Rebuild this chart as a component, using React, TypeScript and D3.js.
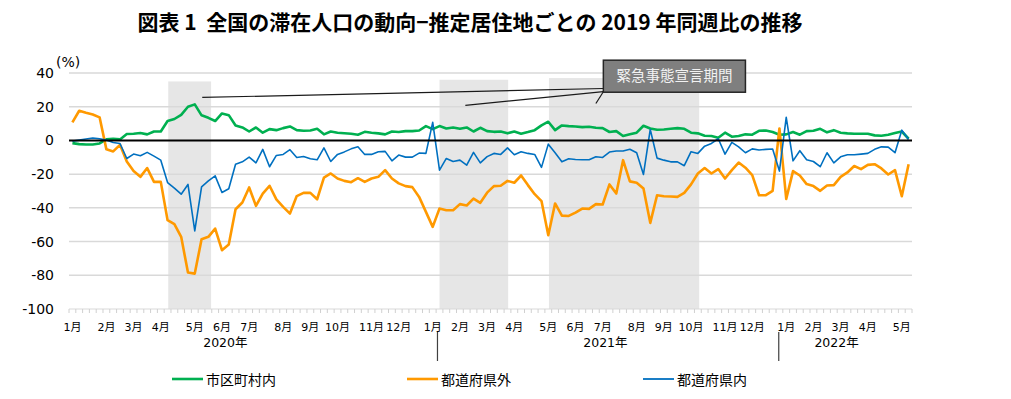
import React from 'react';
import * as d3 from 'd3';

// weekly values, % vs. same week of 2019 (week 0 = first week of Jan 2020)
const withinCity = [
  -1.6, -2.2, -2.4, -2.4, -1.8, 0.6, 1.0, 0.6, 3.8, 4.0, 4.4, 3.6, 5.3, 5.3, 11.5, 12.7, 15.2, 20.0, 21.4, 14.9,
  13.4, 11.5, 16.0, 15.0, 8.9, 7.7, 5.3, 7.7, 4.6, 6.7, 6.1, 7.3, 8.3, 6.1, 5.7, 5.9, 6.9, 3.6, 5.3, 4.6,
  4.3, 4.0, 3.4, 5.1, 4.6, 4.2, 3.6, 5.3, 5.0, 5.5, 5.5, 5.9, 8.5, 6.7, 8.5, 7.1, 7.7, 6.9, 7.7, 5.3,
  7.5, 5.5, 5.1, 5.3, 4.2, 5.3, 4.0, 5.0, 6.1, 8.9, 11.1, 6.1, 8.9, 8.5, 8.3, 7.9, 8.1, 7.5, 7.3, 5.0,
  5.5, 2.6, 3.6, 4.6, 8.7, 7.1, 6.3, 6.5, 6.9, 7.3, 6.9, 4.6, 4.2, 2.8, 2.6, 1.6, 4.6, 2.2, 2.6, 3.6,
  3.4, 5.7, 5.9, 5.0, 3.4, 3.6, 5.0, 3.4, 5.5, 5.7, 6.9, 4.8, 6.1, 4.6, 4.2, 4.0, 4.0, 4.0, 3.0, 2.8,
  3.4, 4.4, 5.3, 1.0,
];
const outsidePref = [
  10.7, 17.6, 16.4, 15.4, 13.7, -5.3, -6.5, -2.6, -12.5, -18.2, -21.6, -16.4, -24.6, -24.6, -47.3, -49.7, -57.2, -78.4, -79.0, -58.6,
  -57.2, -52.3, -65.1, -61.8, -40.8, -36.8, -27.9, -38.8, -31.5, -26.9, -35.0, -39.4, -43.4, -33.0, -31.1, -31.1, -34.9, -22.0, -19.6, -22.6,
  -24.0, -24.8, -22.4, -24.6, -22.6, -21.6, -17.6, -22.6, -25.5, -27.1, -27.7, -33.5, -42.4, -51.3, -40.4, -41.4, -41.4, -37.8, -38.6, -34.5,
  -37.0, -31.0, -27.1, -26.9, -24.0, -25.1, -20.8, -26.5, -31.9, -36.0, -56.2, -37.4, -44.6, -44.8, -42.8, -40.4, -40.6, -37.8, -38.0, -26.1,
  -31.5, -11.7, -24.3, -25.1, -28.5, -48.9, -32.5, -33.1, -33.3, -33.5, -31.1, -26.1, -19.6, -16.4, -19.6, -17.0, -22.6, -17.6, -13.1, -16.2,
  -20.6, -32.5, -32.5, -29.9, 7.1, -34.7, -18.2, -20.8, -25.9, -27.1, -29.9, -26.7, -26.5, -21.6, -19.0, -15.2, -17.0, -14.5, -14.1, -16.6,
  -20.2, -17.6, -33.1, -14.1,
];
const withinPref = [
  -0.4, 0.2, 0.8, 1.4, 1.0, 0.2, -1.2, -1.8, -10.7, -8.1, -9.1, -7.1, -9.3, -11.7, -25.0, -28.3, -31.9, -26.1, -53.7, -27.5,
  -24.0, -21.0, -30.9, -28.7, -14.1, -12.7, -9.9, -13.3, -5.3, -15.6, -8.9, -8.3, -5.5, -10.1, -9.5, -10.9, -11.5, -4.4, -12.5, -8.3,
  -6.8, -5.0, -3.8, -8.3, -8.3, -6.7, -6.5, -12.1, -8.7, -9.9, -9.9, -7.5, -7.7, 10.7, -17.6, -10.7, -12.5, -11.7, -14.7, -7.1,
  -13.3, -9.6, -7.7, -8.3, -4.4, -8.5, -6.7, -7.7, -8.3, -16.0, -2.2, -7.3, -12.7, -10.9, -11.3, -11.5, -11.5, -9.7, -10.1, -6.9,
  -6.3, -6.3, -5.2, -7.3, -20.2, 6.5, -10.5, -11.7, -12.7, -12.7, -15.0, -6.7, -7.7, -3.4, -1.8, 1.0, -8.1, -1.2, -3.8, -7.3,
  -5.0, -5.7, -5.3, -5.1, -18.2, 13.7, -12.1, -6.1, -11.5, -12.5, -15.6, -7.3, -13.3, -9.7, -8.5, -8.5, -8.1, -7.7, -5.3, -3.8,
  -4.0, -7.3, 6.1, 0.6,
];

const seriesNames = ['市区町村内', '都道府県外', '都道府県内'];
const seriesColors = ['#00b050', '#ff9900', '#0070c0'];

const monthLabels = [
  '1月', '2月', '3月', '4月', '5月', '6月', '7月', '8月', '9月', '10月', '11月', '12月',
  '1月', '2月', '3月', '4月', '5月', '6月', '7月', '8月', '9月', '10月', '11月', '12月',
  '1月', '2月', '3月', '4月', '5月',
];
const monthWeeks = [
  0, 5, 9, 13, 18, 22, 26, 31, 35, 39, 44, 48,
  53, 57, 61, 65, 70, 74, 78, 83, 87, 91, 96, 100,
  105, 109, 113, 117, 122,
];
const yearLabels = ['2020年', '2021年', '2022年'];
const yearLabelWeeks = [22.5, 78.4, 112.4];
const yearDividerWeeks = [53.7, 103.9];

// state of emergency periods: [start week, end week, top value]
const emergencyPeriods = [
  [14.1, 20.4, 35],
  [54.0, 64.1, 36],
  [70.1, 92.2, 37],
];
const calloutText = '緊急事態宣言期間';
const calloutBox = [78.1, 99.0, 47.6, 28.6]; // week left, week right, value top, value bottom
const calloutFrom = [[78.1, 30.8], [78.1, 28.9], [78.1, 28.9]];
const calloutTo = [[19.1, 25.5], [57.8, 20.8], [77.0, 21.9]];

const yTicks = [40, 20, 0, -20, -40, -60, -80, -100];

const W = 1011;
const H = 399;
const numFont = "'DejaVu Sans', 'Noto Sans CJK JP', sans-serif";
const jpFont = "'Noto Sans CJK JP', sans-serif";

export default function App() {
  const n = withinCity.length;
  const x = d3.scaleLinear().domain([-0.5, n - 0.5]).range([69, 912]);
  const y = d3.scaleLinear().domain([-100, 40]).range([309, 73]);
  const series = [withinCity, outsidePref, withinPref];
  const line = d3.line<number>().x((_, i) => x(i)).y(d => y(d));
  const [x0, x1] = x.range();

  const legendX = [172, 407, 643];

  return (
    <svg width={W} height={H} style={{ position: 'absolute', left: 0, top: 0, background: '#fff' }}>
      <text x={470} y={30} textAnchor="middle" fontFamily={jpFont} fontWeight="bold" fontSize={21} fill="#000">
        {'図表 1\u00a0\u00a0全国の滞在人口の動向−推定居住地ごとの 2019 年同週比の推移'}
      </text>

      {/* emergency shading */}
      {emergencyPeriods.map(([a, b, top], k) => (
        <rect key={k} x={x(a)} width={x(b) - x(a)} y={y(top)} height={y(-100) - y(top)} fill="#e6e6e6" />
      ))}

      {/* gridlines */}
      {yTicks.filter(t => t !== 0 && t !== -100).map(t => (
        <line key={t} x1={x0} x2={x1} y1={y(t)} y2={y(t)} stroke="#d9d9d9" strokeWidth={1.5} />
      ))}

      {/* bottom axis with weekly ticks */}
      <line x1={x0} x2={x1} y1={y(-100)} y2={y(-100)} stroke="#d9d9d9" strokeWidth={1} />
      {d3.range(n + 1).map(i => (
        <line key={i} x1={x(i - 0.5)} x2={x(i - 0.5)} y1={y(-100)} y2={y(-100) + 4} stroke="#d0d0d0" strokeWidth={1} />
      ))}

      {/* y tick labels */}
      {yTicks.map(t => (
        <text key={t} x={54} y={y(t) + 5} textAnchor="end" fontFamily={numFont} fontSize={14} fill="#000">
          {t}
        </text>
      ))}
      <text x={56} y={67} fontFamily={numFont} fontSize={14} fill="#000">(%)</text>

      {/* series */}
      {series.map((s, k) => (
        <path key={k} d={line(s) || ''} fill="none" stroke={seriesColors[k]}
          strokeWidth={k === 2 ? 1.6 : 2.6} strokeLinejoin="round" />
      ))}

      {/* zero line */}
      <line x1={x0} x2={x1} y1={y(0)} y2={y(0)} stroke="#000" strokeWidth={2} />

      {/* callout */}
      {calloutFrom.map((f, k) => (
        <line key={k} x1={x(f[0])} y1={y(f[1])} x2={x(calloutTo[k][0])} y2={y(calloutTo[k][1])}
          stroke="#1a1a1a" strokeWidth={1.2} />
      ))}
      <rect x={x(calloutBox[0])} y={y(calloutBox[2])} width={x(calloutBox[1]) - x(calloutBox[0])}
        height={y(calloutBox[3]) - y(calloutBox[2])} fill="#7f7f7f" stroke="#262626" strokeWidth={1.5} />
      <text x={(x(calloutBox[0]) + x(calloutBox[1])) / 2} y={(y(calloutBox[2]) + y(calloutBox[3])) / 2 + 5}
        textAnchor="middle" fontFamily={jpFont} fontSize={14.5} fill="#f2f2f2">
        {calloutText}
      </text>

      {/* month labels */}
      {monthLabels.map((m, k) => (
        <text key={k} x={x(monthWeeks[k])} y={331} textAnchor="middle" fontFamily={numFont} fontSize={11} fill="#000">
          {m}
        </text>
      ))}
      {yearLabels.map((lab, k) => (
        <text key={lab} x={x(yearLabelWeeks[k])} y={347} textAnchor="middle" fontFamily={numFont} fontSize={12.5} fill="#000">
          {lab}
        </text>
      ))}
      {yearDividerWeeks.map(w => (
        <line key={w} x1={x(w)} x2={x(w)} y1={332} y2={361} stroke="#404040" strokeWidth={1.2} />
      ))}

      {/* legend */}
      {seriesNames.map((name, k) => (
        <g key={name} transform={`translate(${legendX[k]},379)`}>
          <line x1={0} x2={31} y1={0} y2={0} stroke={seriesColors[k]} strokeWidth={k === 2 ? 1.8 : 2.6} />
          <text x={34} y={6} fontFamily={jpFont} fontSize={14} fill="#000">{name}</text>
        </g>
      ))}
    </svg>
  );
}
